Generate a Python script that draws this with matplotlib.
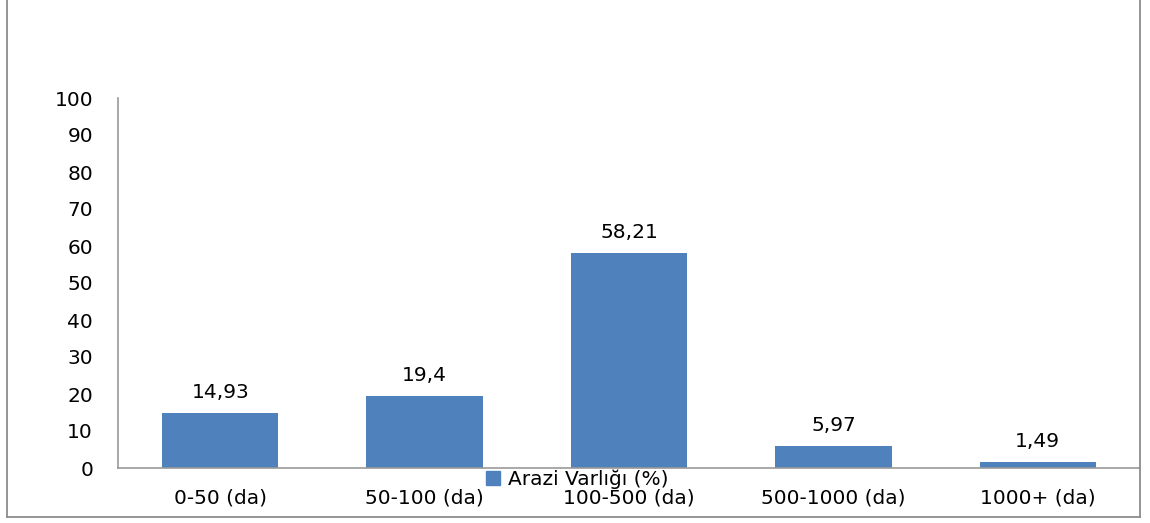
import matplotlib
matplotlib.use("Agg")
import matplotlib.pyplot as plt
from matplotlib.lines import Line2D
from matplotlib.patches import Patch

categories = ["0-50 (da)", "50-100 (da)", "100-500 (da)", "500-1000 (da)", "1000+ (da)"]
values = [14.93, 19.4, 58.21, 5.97, 1.49]
value_labels = ["14,93", "19,4", "58,21", "5,97", "1,49"]
series_name = "Arazi Varlığı (%)"
yticks = list(range(0, 101, 10))

W, H = 1150, 523
plt.rcParams["font.family"] = ["DejaVu Sans"]
fig = plt.figure(figsize=(W / 100, H / 100), dpi=100)
FS = 14.5

# axes box in pixels: x 118..1140, y 98..468
ax = fig.add_axes([118 / W, 1 - 468 / H, (1140 - 118) / W, (468 - 98) / H])
bar_color = "#4F81BD"
x = list(range(len(categories)))
ax.bar(x, values, width=0.57, color=bar_color, zorder=2)
ax.set_xlim(-0.5, len(categories) - 0.5)
ax.set_ylim(0, 100)
ax.set_yticks(yticks)
ax.set_yticklabels([str(v) for v in yticks], fontsize=FS)
ax.set_xticks(x)
ax.set_xticklabels(categories, fontsize=FS)
ax.tick_params(axis="y", length=0, pad=18)
ax.tick_params(axis="x", length=0, pad=15)
for s in ["top", "right"]:
    ax.spines[s].set_visible(False)
for s in ["left", "bottom"]:
    ax.spines[s].set_color("#999999")
    ax.spines[s].set_linewidth(1.2)

for xi, v, lab in zip(x, values, value_labels):
    ax.annotate(lab, (xi, v), xytext=(0, 8), textcoords="offset points",
                ha="center", va="bottom", fontsize=FS)

leg = fig.legend(handles=[Patch(color=bar_color, label=series_name)],
                 loc="center", bbox_to_anchor=(577 / W, 1 - 479 / H),
                 frameon=False, fontsize=FS, handlelength=0.7, handleheight=0.7,
                 handletextpad=0.4, borderpad=0)

# outer chart frame (left, right, bottom)
frame_kw = dict(color="#8c8c8c", linewidth=1.3, transform=fig.transFigure)
fig.add_artist(Line2D([7 / W, 7 / W], [1 - 517 / H, 1.0], **frame_kw))
fig.add_artist(Line2D([1140 / W, 1140 / W], [1 - 517 / H, 1.0], **frame_kw))
fig.add_artist(Line2D([7 / W, 1140 / W], [1 - 517 / H, 1 - 517 / H], **frame_kw))

fig.savefig("out.png", dpi=100)
